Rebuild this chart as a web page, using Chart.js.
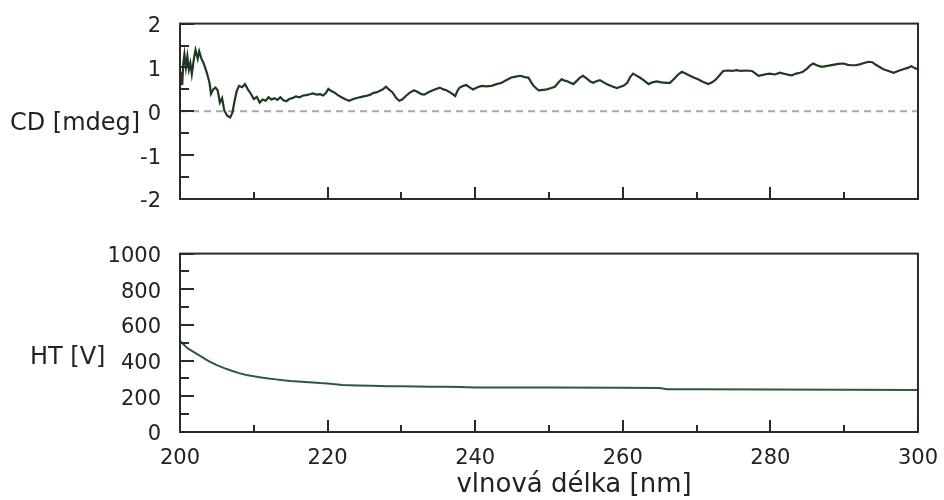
<!DOCTYPE html>
<html><head><meta charset="utf-8">
<script src="https://cdn.jsdelivr.net/npm/chart.js@4.4.0/dist/chart.umd.min.js"></script>
<style>
html,body{margin:0;padding:0;background:#fff;}
#wrap{position:relative;width:944px;height:500px;overflow:hidden;background:#fff;}
#c1{position:absolute;left:0;top:0;}
#c2{position:absolute;left:0;top:230px;}
</style></head><body>
<div id="wrap">
<canvas id="c1" width="944" height="228"></canvas>
<canvas id="c2" width="944" height="270"></canvas>
</div>
<script>
const cdWavelengths = [
200.0,200.15,200.3,200.45,200.6,200.8,201.0,201.2,201.4,201.6,201.9,202.1,202.4,202.6,202.9,203.2,203.6,204.0,204.2,204.5,
204.8,205.1,205.4,205.7,206.0,206.4,206.8,207.1,207.4,207.7,208.0,208.4,208.8,209.2,209.6,210.0,210.4,210.8,211.2,211.6,
212.0,212.4,212.8,213.2,213.6,214.0,214.4,214.8,215.2,215.7,216.2,216.7,217.1,217.6,218.0,218.5,219.0,219.4,219.8,220.1,
220.5,220.9,221.4,222.0,222.5,222.9,223.5,224.1,224.6,225.2,225.8,226.2,226.6,227.1,227.5,227.9,228.3,228.8,229.3,229.7,
230.1,230.6,231.1,231.7,232.2,232.7,233.1,233.6,234.1,234.7,235.2,235.7,236.1,236.7,237.3,237.6,237.9,238.4,238.8,239.3,
239.7,240.3,240.9,241.5,242.2,242.9,243.6,244.2,244.9,245.5,246.1,246.7,247.2,247.6,247.9,248.3,248.6,249.2,249.7,250.3,
250.8,251.3,251.7,252.1,252.4,252.9,253.3,253.8,254.2,254.6,255.1,255.6,256.0,256.5,256.9,257.4,257.8,258.5,259.2,259.7,
260.1,260.6,261.0,261.4,261.8,262.3,262.9,263.5,264.0,264.6,265.2,265.9,266.4,267.0,267.5,268.0,268.5,269.1,269.6,270.2,
270.9,271.6,272.1,272.5,273.0,273.6,274.2,274.8,275.4,276.0,276.7,277.5,277.9,278.4,279.0,279.5,279.9,280.6,281.3,282.0,
282.5,282.9,283.5,284.0,284.4,285.0,285.4,285.8,286.3,286.8,287.2,287.9,288.5,289.2,289.9,290.5,291.0,291.5,292.1,292.7,
293.3,293.8,294.2,294.8,295.3,296.0,296.7,297.3,298.0,298.6,299.1,299.6,300.0
];
const cdValues = [
0.55,0.9,0.6,1.1,1.3,1.0,1.25,0.95,1.1,0.85,1.22,1.4,1.2,1.37,1.2,1.1,0.9,0.65,0.4,0.5,
0.54,0.48,0.2,0.3,0.02,-0.1,-0.14,-0.03,0.24,0.47,0.58,0.55,0.62,0.5,0.4,0.28,0.33,0.2,0.27,0.24,
0.32,0.27,0.3,0.26,0.32,0.25,0.23,0.28,0.3,0.34,0.32,0.36,0.37,0.39,0.41,0.38,0.39,0.36,0.42,0.51,
0.46,0.43,0.37,0.31,0.27,0.24,0.28,0.31,0.33,0.35,0.38,0.42,0.43,0.47,0.5,0.56,0.5,0.43,0.3,0.24,
0.27,0.35,0.42,0.48,0.44,0.39,0.38,0.43,0.47,0.51,0.54,0.5,0.48,0.42,0.35,0.47,0.54,0.58,0.6,0.54,
0.5,0.55,0.58,0.57,0.58,0.62,0.65,0.71,0.77,0.79,0.81,0.78,0.77,0.66,0.58,0.52,0.48,0.49,0.5,0.53,
0.56,0.66,0.73,0.7,0.69,0.65,0.62,0.7,0.77,0.81,0.75,0.68,0.65,0.69,0.71,0.66,0.62,0.57,0.53,0.56,
0.58,0.65,0.78,0.86,0.82,0.77,0.7,0.62,0.66,0.68,0.66,0.65,0.65,0.75,0.84,0.9,0.86,0.81,0.77,0.73,
0.67,0.62,0.66,0.71,0.8,0.92,0.93,0.92,0.94,0.92,0.93,0.92,0.87,0.81,0.83,0.85,0.86,0.84,0.88,0.85,
0.83,0.82,0.86,0.88,0.9,0.98,1.05,1.09,1.05,1.02,1.02,1.04,1.06,1.08,1.09,1.06,1.05,1.05,1.07,1.1,
1.13,1.12,1.07,1.01,0.96,0.92,0.88,0.92,0.96,0.99,1.03,0.98,0.96
];
const htWavelengths = [200,200.5,201,202,203,204,205,206,207,208,209,210,211,212,213,214,215,216,217,218,219,220,222,224,226,228,230,232,234,236,238,239,240,250,260,265,266,270,280,290,300];
const htValues =      [510,490,470,445,420,395,375,358,343,330,320,312,306,300,295,290,286,283,280,277,274,272,264,261,259,257,256,255,254,253,252,251,250,249,248,247,240,239,238,237,236];
const zeroLine = [0, 0];
const xRange = [200, 300];
const xTickValues = [200, 220, 240, 260, 280, 300];
const cdTickValues = [-2, -1, 0, 1, 2];
const htTickValues = [0, 200, 400, 600, 800, 1000];
const cdTitle = 'CD [mdeg]';
const htTitle = 'HT [V]';
const xTitle = 'vlnová délka [nm]';

const FONT = '"DejaVu Sans", Verdana, sans-serif';
const INK = '#222222';

const framePlugin = {
  id: 'frame',
  afterDatasetsDraw(chart, args, o) {
    const {ctx, chartArea: a, scales} = chart;
    ctx.save();
    ctx.strokeStyle = '#2a2a2a';
    ctx.lineWidth = 2;
    ctx.strokeRect(a.left, a.top, a.right - a.left, a.bottom - a.top);
    ctx.beginPath();
    const xs = scales.x, ys = scales.y;
    const xt = xs.ticks.map(t => t.value);
    xt.forEach((v, i) => {
      const p = Math.round(xs.getPixelForValue(v));
      ctx.moveTo(p, a.bottom); ctx.lineTo(p, a.bottom - 12);
      if (i < xt.length - 1) {
        const m = Math.round(xs.getPixelForValue((v + xt[i + 1]) / 2));
        ctx.moveTo(m, a.bottom); ctx.lineTo(m, a.bottom - 7);
      }
    });
    const yt = ys.ticks.map(t => t.value);
    yt.forEach((v, i) => {
      const p = Math.round(ys.getPixelForValue(v));
      ctx.moveTo(a.left, p); ctx.lineTo(a.left + 14, p);
      if (i < yt.length - 1) {
        const m = Math.round(ys.getPixelForValue((v + yt[i + 1]) / 2));
        ctx.moveTo(a.left, m); ctx.lineTo(a.left + 9, m);
      }
    });
    ctx.stroke();
    ctx.fillStyle = INK;
    ctx.textBaseline = 'middle';
    ctx.textAlign = 'left';
    ctx.font = '24px ' + FONT;
    ctx.fillText(o.yTitle, o.yTitleX, (a.top + a.bottom) / 2 + o.yTitleDy);
    if (o.xTitle) {
      ctx.font = '26px ' + FONT;
      ctx.textAlign = 'center';
      ctx.fillText(o.xTitle, o.xTitleX, o.xTitleY);
    }
    ctx.restore();
  }
};

function pts(xs, ys) { return xs.map((x, i) => ({x, y: ys[i]})); }

function makeScales(yMin, yMax, yTicks, showX, xHeight) {
  return {
    x: {
      type: 'linear', min: xRange[0], max: xRange[1],
      grid: {display: false}, border: {display: false},
      afterBuildTicks: s => { s.ticks = xTickValues.map(v => ({value: v})); },
      afterFit: s => { s.height = xHeight; },
      ticks: {display: showX, padding: 6, color: INK, font: {family: FONT, size: 21}, maxRotation: 0, autoSkip: false,
        callback: v => String(v)}
    },
    y: {
      type: 'linear', min: yMin, max: yMax,
      grid: {display: false}, border: {display: false},
      afterBuildTicks: s => { s.ticks = yTicks.map(v => ({value: v})); },
      afterFit: s => { s.width = 180; },
      ticks: {padding: 11, labelOffset: 3, color: INK, font: {family: FONT, size: 21}, autoSkip: false,
        callback: v => String(v)}
    }
  };
}

new Chart(document.getElementById('c1'), {
  type: 'line',
  data: {
    datasets: [
      {data: pts(xRange, zeroLine), borderColor: '#a9a9a9', borderWidth: 2, borderDash: [7, 5], pointRadius: 0, order: 2},
      {data: pts(cdWavelengths, cdValues), borderColor: '#1f3a1f', borderWidth: 2.2, pointRadius: 0, tension: 0, order: 1}
    ]
  },
  options: {
    responsive: false, animation: false,
    layout: {padding: {top: 22, right: 26, left: 0, bottom: 0}},
    plugins: {legend: {display: false}, tooltip: {enabled: false},
      frame: {yTitle: cdTitle, yTitleX: 10, yTitleDy: 12}},
    scales: makeScales(-2, 2, cdTickValues, false, 29)
  },
  plugins: [framePlugin]
});

new Chart(document.getElementById('c2'), {
  type: 'line',
  data: {
    datasets: [
      {data: pts(htWavelengths, htValues), borderColor: '#2e5a38', borderWidth: 2, pointRadius: 0, tension: 0}
    ]
  },
  options: {
    responsive: false, animation: false,
    layout: {padding: {top: 23, right: 26, left: 0, bottom: 0}},
    plugins: {legend: {display: false}, tooltip: {enabled: false},
      frame: {yTitle: htTitle, yTitleX: 30, yTitleDy: 15, xTitle: xTitle, xTitleX: 574, xTitleY: 255}},
    scales: makeScales(0, 1000, htTickValues, true, 68)
  },
  plugins: [framePlugin]
});
</script>
</body></html>
